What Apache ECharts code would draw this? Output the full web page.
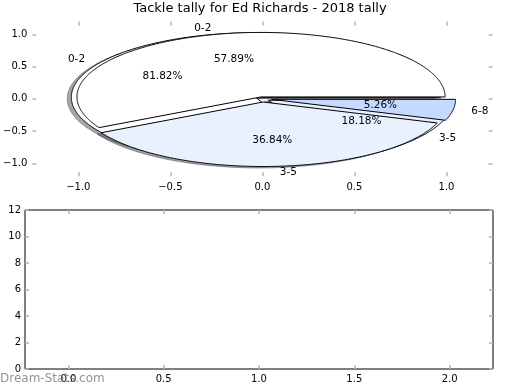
<!DOCTYPE html>
<html><head><meta charset="utf-8">
<script src="https://cdn.jsdelivr.net/npm/echarts@6/dist/echarts.min.js"></script>
<style>html,body{margin:0;padding:0;background:#fff}#c{width:520px;height:390px}</style>
</head><body><div id="c"></div>
<script>
// ---- data ----
const chartTitle = 'Tackle tally for Ed Richards - 2018 tally';
const watermark = 'Dream-Stats.com';
const overallCats = ['0-2', '3-5'];
const overallValues = [9, 2];
const seasonCats = ['0-2', '3-5', '6-8'];
const seasonValues = [11, 7, 1];
const pieXTicks = [-1, -0.5, 0, 0.5, 1];
const pieYTicks = [-1, -0.5, 0, 0.5, 1];
const barXTicks = [0, 0.5, 1, 1.5, 2];
const barYTicks = [0, 2, 4, 6, 8, 10, 12];
const barValues = [];

// ---- styles ----
const FONT = 'DejaVu Sans';
const overallStyle = { explode: [0.045, 0.04], colors: ['#ffffff', '#e9f1ff'] };
const seasonStyle = { explode: [0.03, 0.05, 0.05], colors: ['#ffffff', '#e9f1ff', '#c6d9ff'] };
const SH = 0.02 * 80 / 72;
const TICK = { show: true, inside: true, length: 4, lineStyle: { color: '#b5b5b5', width: 1.5 } };

function wedgeGeom(values, style, i) {
  const total = values.reduce((a, b) => a + b, 0);
  let cum = 0;
  for (let k = 0; k < i; k++) cum += values[k];
  const t1 = cum / total * 2 * Math.PI, t2 = (cum + values[i]) / total * 2 * Math.PI;
  const mid = (t1 + t2) / 2, e = style.explode[i];
  return { t1, t2, mid, cx: e * Math.cos(mid), cy: e * Math.sin(mid), pct: values[i] / total * 100 };
}
function shadowColor(hex) {
  const r = parseInt(hex.slice(1, 3), 16), g = parseInt(hex.slice(3, 5), 16), b = parseInt(hex.slice(5, 7), 16);
  return 'rgba(' + Math.round(r * 0.3) + ',' + Math.round(g * 0.3) + ',' + Math.round(b * 0.3) + ',0.5)';
}
function wedgeSeries(values, style, isShadow, z) {
  return {
    type: 'custom', xAxisIndex: 0, yAxisIndex: 0, z: z, silent: true, animation: false,
    data: values.map((v, i) => [i, v]),
    renderItem: function (params, api) {
      const i = api.value(0);
      const g = wedgeGeom(values, style, i);
      const o = isShadow ? -SH : 0;
      const pts = [api.coord([g.cx + o, g.cy + o])];
      const n = Math.max(2, Math.ceil((g.t2 - g.t1) / (Math.PI / 360)));
      for (let k = 0; k <= n; k++) {
        const t = g.t1 + (g.t2 - g.t1) * k / n;
        pts.push(api.coord([g.cx + o + Math.cos(t), g.cy + o + Math.sin(t)]));
      }
      const col = style.colors[i];
      return {
        type: 'polygon', shape: { points: pts },
        style: isShadow ? { fill: shadowColor(col), stroke: shadowColor(col), lineWidth: 1 }
                        : { fill: col, stroke: '#000', lineWidth: 1, lineJoin: 'miter' }
      };
    }
  };
}
function labelSeries(values, cats, style, z) {
  return {
    type: 'custom', xAxisIndex: 0, yAxisIndex: 0, z: z, silent: true, animation: false,
    data: values.map((v, i) => [i, v]),
    renderItem: function (params, api) {
      const i = api.value(0);
      const g = wedgeGeom(values, style, i);
      const lx = g.cx + 1.1 * Math.cos(g.mid), ly = g.cy + 1.1 * Math.sin(g.mid);
      const px = g.cx + 0.6 * Math.cos(g.mid), py = g.cy + 0.6 * Math.sin(g.mid);
      const lp = api.coord([lx, ly]), pp = api.coord([px, py]);
      return {
        type: 'group', children: [
          { type: 'text', x: lp[0], y: lp[1], style: { text: cats[i], fill: '#000', font: '10.5px "' + FONT + '"', align: lx > 0 ? 'left' : 'right', verticalAlign: 'middle' } },
          { type: 'text', x: pp[0], y: pp[1], style: { text: g.pct.toFixed(2) + '%', fill: '#000', font: '10.5px "' + FONT + '"', align: 'center', verticalAlign: 'middle' } }
        ]
      };
    }
  };
}
const fmt = v => (v < 0 ? '\u2212' : '') + Math.abs(v).toFixed(1);
function axis(grid, pos, min, max, ticks, showLabel, formatter, margin) {
  return {
    type: 'value', gridIndex: grid, position: pos, min: min, max: max,
    axisLine: { show: false, onZero: false }, splitLine: { show: false },
    axisTick: Object.assign({ customValues: ticks }, TICK),
    axisLabel: { show: showLabel, customValues: ticks, formatter: formatter, color: '#000', fontSize: 10, fontFamily: FONT, margin: margin }
  };
}

const chart = echarts.init(document.getElementById('c'), null, { renderer: 'canvas' });
chart.setOption({
  animation: false,
  backgroundColor: '#fff',
  title: { text: chartTitle, left: 'center', top: 2, padding: 0, textStyle: { fontFamily: FONT, fontSize: 13, fontWeight: 'normal', color: '#000' } },
  grid: [
    { left: 26, right: 27.5, top: 21.4, height: 154.8, show: false },
    { left: 25, right: 27, top: 210, height: 159, show: true, borderColor: '#000', borderWidth: 1, backgroundColor: 'transparent' }
  ],
  xAxis: [
    axis(0, 'bottom', -1.25, 1.25, pieXTicks, true, fmt, 6),
    axis(0, 'top', -1.25, 1.25, pieXTicks, false, fmt, 5),
    axis(1, 'bottom', -0.2275, 2.2275, barXTicks, true, fmt, 5),
    axis(1, 'top', -0.2275, 2.2275, barXTicks, false, fmt, 5)
  ],
  yAxis: [
    axis(0, 'left', -1.2, 1.2, pieYTicks, true, fmt, 5),
    axis(0, 'right', -1.2, 1.2, pieYTicks, false, fmt, 5),
    axis(1, 'left', 0, 12, barYTicks, true, v => String(v), 4),
    axis(1, 'right', 0, 12, barYTicks, false, v => String(v), 4)
  ],
  series: [
    wedgeSeries(overallValues, overallStyle, true, 1),
    wedgeSeries(seasonValues, seasonStyle, true, 1),
    wedgeSeries(overallValues, overallStyle, false, 2),
    wedgeSeries(seasonValues, seasonStyle, false, 3),
    labelSeries(overallValues, overallCats, overallStyle, 4),
    labelSeries(seasonValues, seasonCats, seasonStyle, 4),
    { type: 'bar', xAxisIndex: 2, yAxisIndex: 2, data: barValues }
  ],
  graphic: [
    { type: 'text', left: 0, top: 373, z: 100, style: { text: watermark, fill: 'rgba(120,120,120,0.8)', font: '12px "' + FONT + '"' } }
  ]
});
</script></body></html>
